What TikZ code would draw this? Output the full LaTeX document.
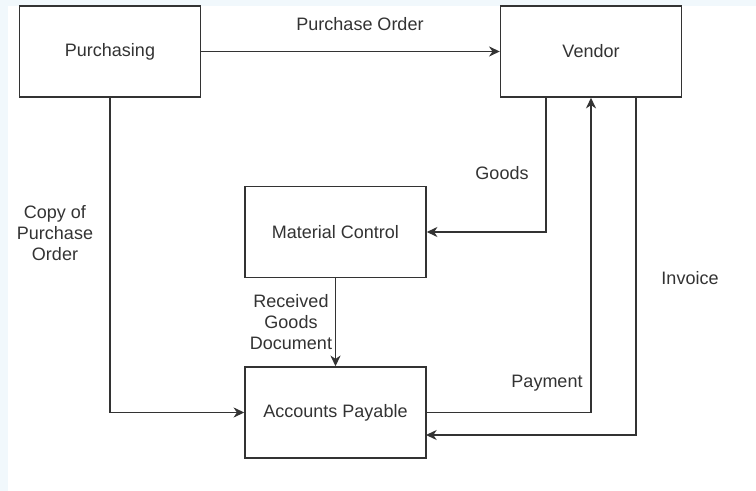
\documentclass[tikz,border=0pt]{standalone}
\usepackage{fontspec}
\setmainfont{Liberation Sans}
\usetikzlibrary{arrows.meta}
\definecolor{bgblue}{HTML}{F1F8FC}
\definecolor{ink}{HTML}{333333}
\begin{document}
\begin{tikzpicture}[x=0.75pt,y=-0.75pt,
  box/.style={draw=ink,line width=1.1pt,fill=white,minimum width=181*0.75pt,minimum height=91*0.75pt,inner sep=0pt,font=\fontsize{13.5}{15.75}\selectfont,text=ink},
  conn/.style={draw=ink,line width=1.1pt,-{Stealth[length=8pt,width=7.5pt,inset=2.5pt]}},
  lbl/.style={font=\fontsize{13.5}{15.75}\selectfont,text=ink,align=center,inner sep=0pt}]
\fill[bgblue] (0,0) rectangle (756,491);
\fill[white] (8,6) rectangle (756,491);
\useasboundingbox (0,0) rectangle (756,491);
\node[box] (pur) at (110,51.5) {Purchasing};
\node[box] (ven) at (591,51.5) {Vendor};
\node[box] (mc) at (335.5,232) {Material Control};
\node[box] (ap) at (335.5,412.5) {Accounts Payable};
\draw[conn] (pur.east) -- (ven.west);
\node[lbl] (l1) at (360,24) {Purchase Order};
\draw[conn] (pur.south) |- (ap.west);
\node[lbl] (l2) at (55,233) {Copy of\\Purchase\\Order};
\coordinate (g1) at (546,97);
\draw[conn] (g1) |- (mc.east);
\node[lbl] (l3) at (502,173) {Goods};
\draw[conn] (mc.south) -- (ap.north);
\node[lbl] (l4) at (291,322) {Received\\Goods\\Document};
\draw[conn] (ap.east) -| (ven.south);
\node[lbl] (l5) at (547,383) {Payment};
\coordinate (i1) at (636,97);
\coordinate (i2) at (426,435);
\draw[conn] (i1) |- (i2);
\node[lbl] (l6) at (690,278) {Invoice};
\end{tikzpicture}
\end{document}
